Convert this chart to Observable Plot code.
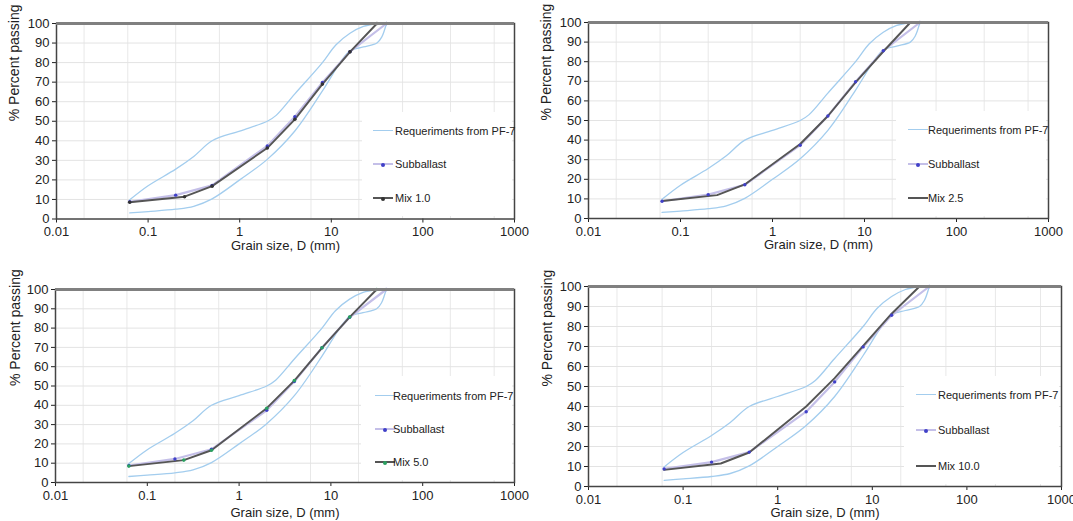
<!DOCTYPE html>
<html><head><meta charset="utf-8">
<script src="https://cdn.jsdelivr.net/npm/d3@7"></script>
<script src="https://cdn.jsdelivr.net/npm/@observablehq/plot@0.6"></script>
<style>
body{margin:0;background:#fff;font-family:"Liberation Sans",Arial,sans-serif;}
#wrap{position:relative;width:1073px;height:521px;overflow:hidden;background:#fff;}
.panel{position:absolute;}
.panel svg{display:block;}
.legend{position:absolute;background:#fff;font-size:11px;color:#222;}
.row{position:absolute;left:0;height:12px;line-height:12px;white-space:nowrap;}
.sym{position:absolute;top:5px;width:20px;}
.mk{position:absolute;left:8px;top:-2px;width:4px;height:4px;border-radius:2px;}
.lab{position:absolute;top:0;}
</style>
</head><body><div id="wrap"></div>
<script>
// ---- data ----
const sieveMix = [0.063, 0.25, 0.5, 2, 4, 8, 16, 31.5];
const sieveSub = [0.063, 0.2, 0.5, 2, 4, 8, 16, 40];
const passSub = [8.8, 12.2, 17.2, 37.4, 52.3, 69.8, 85.6, 100];
const passMix1 = [8.6, 11.4, 16.8, 36.3, 51.0, 69.0, 85.5, 100];
const passMix25 = [8.9, 11.9, 17.4, 38.0, 52.3, 69.5, 85.2, 100];
const passMix5 = [8.5, 11.6, 16.7, 38.5, 52.8, 69.8, 85.7, 100];
const passMix10 = [8.3, 11.5, 17.0, 40.0, 54.2, 70.3, 86.4, 100];
const upperSizes = [0.063, 0.1, 0.2, 0.315, 0.5, 1, 2, 2.5, 4, 8, 11.2, 16, 22.4, 31.5];
const upperPass = [9.8, 17, 25.5, 32, 40, 45, 50, 53, 64, 80, 89, 95, 98.5, 100];
const lowerSizes = [0.063, 0.1, 0.2, 0.315, 0.5, 1, 2, 4, 8, 12.5, 16, 22.4, 31.5, 35.5, 40];
const lowerPass = [3.1, 3.8, 5, 6.5, 10.3, 20, 30.5, 45, 65.5, 80, 86, 88, 90, 93, 100];
const xTicks = [0.01, 0.1, 1, 10, 100, 1000];
const yTicks = [0, 10, 20, 30, 40, 50, 60, 70, 80, 90, 100];
const xGrid = [0.02, 0.06, 0.2, 0.6, 2, 6, 20, 60, 200, 600];
const mixNames = ["Mix 1.0", "Mix 2.5", "Mix 5.0", "Mix 10.0"];
const mixSeries = [passMix1, passMix25, passMix5, passMix10];
const envName = "Requeriments from PF-7";
const subName = "Subballast";
const yTitle = "% Percent passing";
const xTitle = "Grain size, D (mm)";

// ---- layout ----
const layouts = [
  {left:0,   top:0,   w:536, h:260, ml:56, mr:22, mt:23, mb:41.5, ytdx:-42, xtdy:30.5, mixDot:"#333",
   lg:{x:362, y:112, w:150, h:104, rows:[19,52,86], sx:11, tx:33}},
  {left:533, top:0,   w:540, h:260, ml:55, mr:25, mt:22, mb:42, ytdx:-42, xtdy:30.5, mixDot:null,
   lg:{x:363, y:111, w:150, h:105, rows:[19,53,87], sx:12, tx:32}},
  {left:0,   top:266, w:536, h:255, ml:55, mr:22, mt:23, mb:39, ytdx:-40, xtdy:34, mixDot:"#2aa060",
   lg:{x:361, y:110, w:151, h:104, rows:[20,53,86], sx:14, tx:32}},
  {left:533, top:266, w:540, h:255, ml:55, mr:12, mt:20, mb:35, ytdx:-41, xtdy:30.5, mixDot:null,
   lg:{x:371, y:110, w:155, h:108, rows:[19,54,90], sx:12, tx:34}}
];

const rows = (xs, ys) => xs.map((d, i) => ({d, p: ys[i]}));
const upper = rows(upperSizes, upperPass);
const lower = rows(lowerSizes, lowerPass);
const sub = rows(sieveSub, passSub);

const wrap = document.getElementById("wrap");
layouts.forEach((L, k) => {
  const mix = rows(sieveMix, mixSeries[k]);
  const marks = [
    Plot.ruleX(xGrid, {stroke: "#e8e8e8", strokeWidth: 1}),
    Plot.ruleY(yTicks.filter(v => v > 0 && v < 100), {stroke: "#e3e3e3", strokeWidth: 1}),
    Plot.line(upper, {x: "d", y: "p", stroke: "#a3cdee", strokeWidth: 1.3, curve: "catmull-rom"}),
    Plot.line(lower, {x: "d", y: "p", stroke: "#a3cdee", strokeWidth: 1.3, curve: "catmull-rom"}),
    Plot.line(sub, {x: "d", y: "p", stroke: "#c4bfe8", strokeWidth: 2.2}),
    Plot.line(mix, {x: "d", y: "p", stroke: "#555", strokeWidth: 1.9}),
    Plot.dot(sub, {x: "d", y: "p", r: 1.7, fill: "#4040c8"}),
  ];
  if (L.mixDot) marks.push(Plot.dot(mix, {x: "d", y: "p", r: 1.8, fill: L.mixDot}));
  marks.push(
    Plot.frame({stroke: "#444", strokeWidth: 1.5}),
    Plot.ruleY([100], {stroke: "#808080", strokeWidth: 3}),
    Plot.text([yTitle], {frameAnchor: "left", dx: L.ytdx, rotate: -90, fontSize: 14, fill: "#222"}),
    Plot.text([xTitle], {frameAnchor: "bottom", dy: L.xtdy, fontSize: 13, fill: "#222"})
  );
  const chart = Plot.plot({
    width: L.w, height: L.h,
    marginLeft: L.ml, marginRight: L.mr, marginTop: L.mt, marginBottom: L.mb,
    style: {fontFamily: '"Liberation Sans", Arial, sans-serif', fontSize: "13px", color: "#222", background: "transparent", overflow: "visible"},
    x: {type: "log", domain: [0.01, 1000], ticks: xTicks, tickFormat: d => String(d), tickSize: 4, tickPadding: 4, label: null},
    y: {domain: [0, 100], ticks: yTicks, tickSize: 4, tickPadding: 3, label: null},
    marks
  });
  const div = document.createElement("div");
  div.className = "panel";
  div.style.left = L.left + "px"; div.style.top = L.top + "px";
  div.style.width = L.w + "px"; div.style.height = L.h + "px";
  div.appendChild(chart);
  // legend
  const lg = document.createElement("div");
  lg.className = "legend";
  Object.assign(lg.style, {left: L.lg.x + "px", top: L.lg.y + "px", width: L.lg.w + "px", height: L.lg.h + "px"});
  const items = [
    {label: envName, color: "#a3cdee", w: 1.3, mk: null},
    {label: subName, color: "#c4bfe8", w: 2, mk: "#4040c8"},
    {label: mixNames[k], color: "#555", w: 2, mk: L.mixDot || null}
  ];
  items.forEach((it, i) => {
    const r = document.createElement("div");
    r.className = "row";
    r.style.top = (L.lg.rows[i] - 6) + "px";
    r.style.width = L.lg.w + "px";
    const s = document.createElement("div");
    s.className = "sym";
    Object.assign(s.style, {left: L.lg.sx + "px", borderTop: it.w + "px solid " + it.color});
    if (it.mk) {
      const m = document.createElement("div");
      m.className = "mk"; m.style.background = it.mk;
      s.appendChild(m);
    }
    const t = document.createElement("div");
    t.className = "lab"; t.style.left = L.lg.tx + "px"; t.textContent = it.label;
    r.appendChild(s); r.appendChild(t);
    lg.appendChild(r);
  });
  div.appendChild(lg);
  wrap.appendChild(div);
});
</script>
</body></html>
